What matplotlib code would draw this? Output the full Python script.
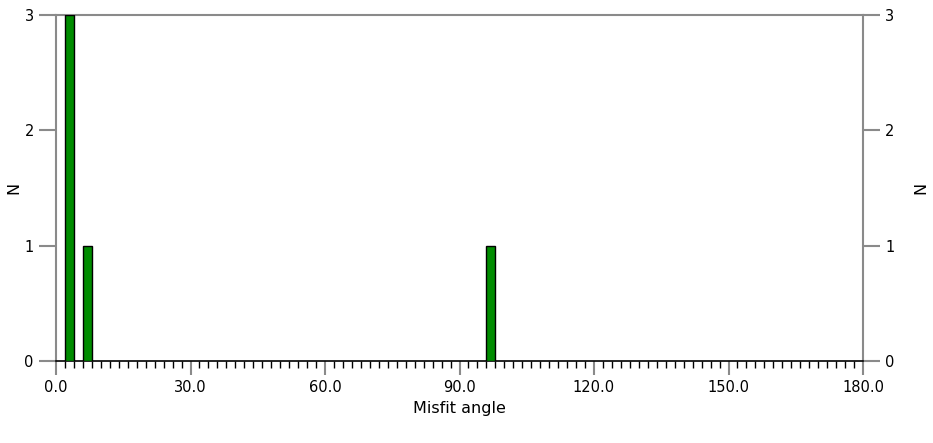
import numpy as np
import matplotlib
matplotlib.use("Agg")
import matplotlib.pyplot as plt
from matplotlib.ticker import MultipleLocator, FormatStrFormatter

# Histogram of misfit angles (bin left edges, width 2 deg)
bin_left = [2, 6, 96]
counts = [3, 1, 1]
bin_width = 2
x_ticks = [0, 30, 60, 90, 120, 150, 180]
y_ticks = [0, 1, 2, 3]

fig = plt.figure(figsize=(9.33, 4.43), dpi=100)
ax = fig.add_axes([56 / 933, 82 / 443, 807 / 933, 346 / 443])

ax.bar(bin_left, counts, width=bin_width, align="edge",
       color="#008c00", edgecolor="black", linewidth=1.0, zorder=3)

ax.set_xlim(0, 180)
ax.set_ylim(0, 3)
ax.set_xticks(x_ticks)
ax.xaxis.set_major_formatter(FormatStrFormatter("%.1f"))
ax.xaxis.set_minor_locator(MultipleLocator(2))
ax.set_yticks(y_ticks)

gray = "#8a8a8a"
for side in ["left", "right", "top"]:
    ax.spines[side].set_color(gray)
    ax.spines[side].set_linewidth(1.5)
ax.spines["bottom"].set_color("black")
ax.spines["bottom"].set_linewidth(1.2)

ax.tick_params(axis="x", which="major", direction="out", length=10, width=1.5,
               color=gray, pad=4, labelsize=10.5)
ax.tick_params(axis="x", which="minor", direction="out", length=5, width=1.0,
               color="black")
ax.tick_params(axis="y", which="major", direction="out", length=12, width=1.5,
               color=gray, left=True, right=True, labelleft=True,
               labelright=True, pad=4, labelsize=10.5)

ax.set_xlabel("Misfit angle", fontsize=11.5, labelpad=4)
ax.set_ylabel("N", fontsize=11.5, labelpad=2)
sec = ax.secondary_yaxis("right")
sec.set_yticks([])
sec.spines["right"].set_visible(False)
sec.set_ylabel("N", fontsize=11.5, labelpad=36)

fig.savefig("out.png", dpi=100)
